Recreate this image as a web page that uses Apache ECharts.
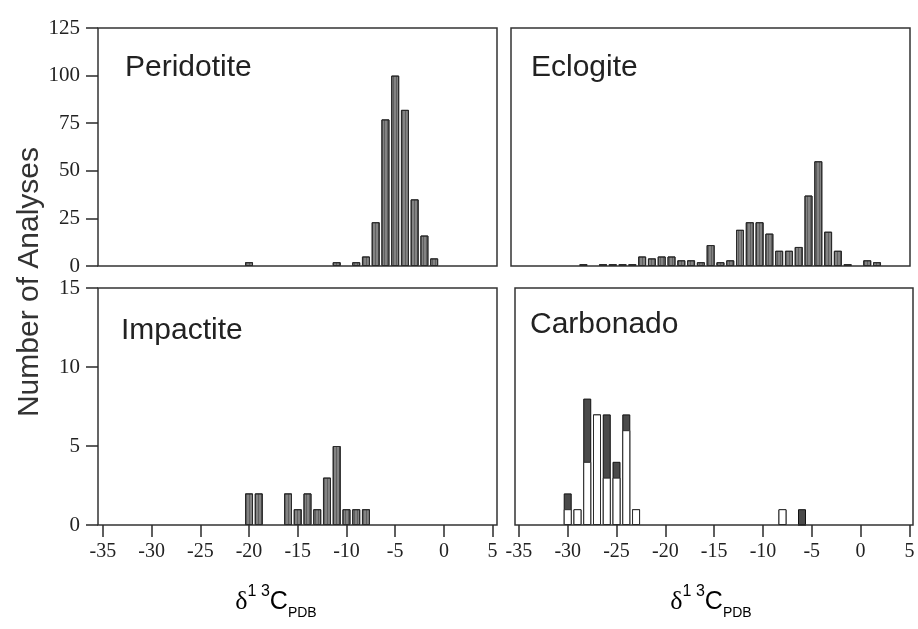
<!DOCTYPE html>
<html>
<head>
<meta charset="utf-8">
<script src="https://cdn.jsdelivr.net/npm/echarts@6/dist/echarts.min.js"></script>
<style>
html, body { margin: 0; padding: 0; background: #fff; }
#main { width: 918px; height: 629px; }
</style>
</head>
<body>
<div id="main"></div>
<script>
// bin centres (per mil) and counts
var peridotiteX = [-20, -11, -9, -8, -7, -6, -5, -4, -3, -2, -1];
var peridotiteN = [2, 2, 2, 5, 23, 77, 100, 82, 35, 16, 4];

var eclogiteX = [-28, -26, -25, -24, -23, -22, -21, -20, -19, -18, -17, -16, -15, -14, -13,
                 -12, -11, -10, -9, -8, -7, -6, -5, -4, -3, -2, -1, 1, 2];
var eclogiteN = [1, 1, 1, 1, 1, 5, 4, 5, 5, 3, 3, 2, 11, 2, 3,
                 19, 23, 23, 17, 8, 8, 10, 37, 55, 18, 8, 1, 3, 2];

var impactiteX = [-20, -19, -16, -15, -14, -13, -12, -11, -10, -9, -8];
var impactiteN = [2, 2, 2, 1, 2, 1, 3, 5, 1, 1, 1];

// carbonado bars: open part below, filled part on top
var carbonadoX = [-30, -29, -28, -27, -26, -25, -24, -23, -8, -6];
var carbonadoOpen = [1, 1, 4, 7, 3, 3, 6, 1, 1, 0];
var carbonadoFilled = [1, 0, 4, 0, 4, 1, 1, 0, 0, 1];

var xTicks = [-35, -30, -25, -20, -15, -10, -5, 0, 5];

function pairs(xs, ys) {
	return xs.map(function (x, i) { return [x, ys[i]]; });
}

// full bar height (open + filled) for the dark bar drawn underneath
var carbonadoTotal = carbonadoOpen.map(function (v, i) { return v + carbonadoFilled[i]; });

var ink = '#2a2a2a';
var serif = '"Liberation Serif", "DejaVu Serif", serif';
var sans = '"Liberation Sans", Arial, sans-serif';

function xAxisFor(grid, min, max, labelled) {
	return {
		type: 'value',
		gridIndex: grid,
		min: min,
		max: max,
		axisLine: { show: false, onZero: false },
		splitLine: { show: false },
		axisTick: {
			show: labelled,
			inside: false,
			length: 12,
			customValues: xTicks,
			lineStyle: { color: ink, width: 1.5 }
		},
		axisLabel: {
			show: labelled,
			customValues: xTicks,
			margin: 17,
			fontFamily: serif,
			fontSize: 20,
			color: '#222'
		}
	};
}

function yAxisFor(grid, max, interval, labelled) {
	return {
		type: 'value',
		gridIndex: grid,
		min: 0,
		max: max,
		interval: interval,
		axisLine: { show: false, onZero: false },
		splitLine: { show: false },
		axisTick: {
			show: labelled,
			inside: false,
			length: 12,
			lineStyle: { color: ink, width: 1.5 }
		},
		axisLabel: {
			show: labelled,
			margin: 18,
			fontFamily: serif,
			fontSize: 21,
			color: '#222'
		}
	};
}

var boxStyle = { show: true, borderColor: '#333', borderWidth: 1.5, backgroundColor: 'transparent' };

var grayBar = {
	color: '#838383',
	borderColor: ink,
	borderWidth: 1,
	decal: {
		symbol: 'rect',
		symbolSize: 1,
		dashArrayX: [1, 2],
		dashArrayY: [8, 0],
		color: 'rgba(30,30,30,0.35)'
	}
};

function panelTitle(text, left, top) {
	return {
		text: text,
		left: left,
		top: top,
		padding: 0,
		textStyle: { fontFamily: sans, fontSize: 30, fontWeight: 'normal', color: '#222' }
	};
}

var deltaRich = {
	d: { fontFamily: serif, fontSize: 26, lineHeight: 36, color: '#222' },
	s: { fontFamily: sans, fontSize: 16, verticalAlign: 'top', color: '#222' },
	c: { fontFamily: sans, fontSize: 25, lineHeight: 36, color: '#222' },
	p: { fontFamily: sans, fontSize: 14, verticalAlign: 'bottom', color: '#222' }
};

var chart = echarts.init(document.getElementById('main'));

var option = {
	backgroundColor: '#fff',
	animation: false,
	title: [
		panelTitle('Peridotite', 125, 53),
		panelTitle('Eclogite', 531, 53),
		panelTitle('Impactite', 121, 316),
		panelTitle('Carbonado', 530, 310)
	],
	grid: [
		Object.assign({ left: 98, top: 28, width: 399, height: 238 }, boxStyle),
		Object.assign({ left: 511, top: 28, width: 399, height: 238 }, boxStyle),
		Object.assign({ left: 98, top: 288, width: 399, height: 237 }, boxStyle),
		Object.assign({ left: 515, top: 288, width: 398, height: 237 }, boxStyle)
	],
	xAxis: [
		xAxisFor(0, -35.5, 5.45, false),
		xAxisFor(1, -35.4, 5.37, false),
		xAxisFor(2, -35.5, 5.45, true),
		xAxisFor(3, -35.4, 5.37, true)
	],
	yAxis: [
		yAxisFor(0, 125, 25, true),
		yAxisFor(1, 125, 25, false),
		yAxisFor(2, 15, 5, true),
		yAxisFor(3, 15, 5, false)
	],
	graphic: [
		{
			type: 'text',
			x: 30,
			y: 282,
			rotation: Math.PI / 2,
			style: {
				text: 'Number of Analyses',
				fontFamily: sans,
				fontSize: 30,
				fill: '#333',
				align: 'center',
				verticalAlign: 'middle'
			}
		},
		{
			type: 'text',
			x: 276,
			y: 602,
			style: { text: '{d|δ}{s|1 3}{c|C}{p|PDB}', rich: deltaRich, align: 'center', verticalAlign: 'middle' }
		},
		{
			type: 'text',
			x: 711,
			y: 602,
			style: { text: '{d|δ}{s|1 3}{c|C}{p|PDB}', rich: deltaRich, align: 'center', verticalAlign: 'middle' }
		}
	],
	series: [
		{
			name: 'Peridotite',
			type: 'bar',
			xAxisIndex: 0,
			yAxisIndex: 0,
			barWidth: 8,
			data: pairs(peridotiteX, peridotiteN),
			itemStyle: grayBar
		},
		{
			name: 'Eclogite',
			type: 'bar',
			xAxisIndex: 1,
			yAxisIndex: 1,
			barWidth: 8,
			data: pairs(eclogiteX, eclogiteN),
			itemStyle: grayBar
		},
		{
			name: 'Impactite',
			type: 'bar',
			xAxisIndex: 2,
			yAxisIndex: 2,
			barWidth: 8,
			data: pairs(impactiteX, impactiteN),
			itemStyle: grayBar
		},
		{
			name: 'Carbonado filled',
			type: 'bar',
			xAxisIndex: 3,
			yAxisIndex: 3,
			barWidth: 8,
			barGap: '-100%',
			data: pairs(carbonadoX, carbonadoTotal),
			itemStyle: { color: '#4a4a4a', borderColor: '#111', borderWidth: 1 }
		},
		{
			name: 'Carbonado open',
			type: 'bar',
			xAxisIndex: 3,
			yAxisIndex: 3,
			barWidth: 8,
			barGap: '-100%',
			data: pairs(carbonadoX, carbonadoOpen),
			itemStyle: { color: '#fff', borderColor: ink, borderWidth: 1 }
		}
	]
};

chart.setOption(option);
</script>
</body>
</html>
